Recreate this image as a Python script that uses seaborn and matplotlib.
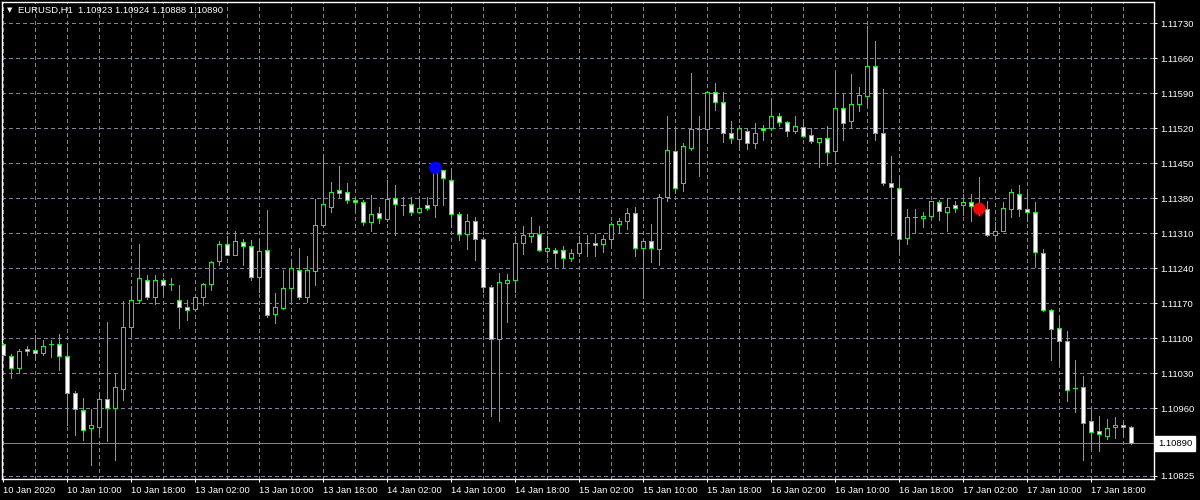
import numpy as np
import pandas as pd
import matplotlib
matplotlib.use("Agg")
import matplotlib.pyplot as plt
import matplotlib.transforms as mtransforms
import seaborn as sns

symbol = "EURUSD,H1"

# hourly bars, 10 Jan 2020 02:00 .. 17 Jan 2020 23:00
opens = [
    1.11088, 1.11065, 1.11040, 1.11079, 1.11076, 1.11070, 1.11088, 1.11088, 1.11064, 1.10990,
    1.10956, 1.10920, 1.10923, 1.10978, 1.10960, 1.10998, 1.11123, 1.11176, 1.11216, 1.11182,
    1.11216, 1.11208, 1.11176, 1.11163, 1.11158, 1.11182, 1.11209, 1.11254, 1.11288, 1.11266,
    1.11292, 1.11284, 1.11222, 1.11276, 1.11148, 1.11161, 1.11200, 1.11236, 1.11182, 1.11234,
    1.11326, 1.11362, 1.11396, 1.11392, 1.11376, 1.11372, 1.11333, 1.11350, 1.11338, 1.11380,
    1.11367, 1.11368, 1.11352, 1.11366, 1.11366, 1.11436, 1.11416, 1.11348, 1.11308, 1.11334,
    1.11298, 1.11202, 1.11098, 1.11210, 1.11216, 1.11291, 1.11304, 1.11308, 1.11274, 1.11277,
    1.11276, 1.11260, 1.11270, 1.11291, 1.11291, 1.11288, 1.11298, 1.11328, 1.11334, 1.11350,
    1.11280, 1.11294, 1.11278, 1.11382, 1.11475, 1.11411, 1.11481, 1.11518, 1.11518, 1.11593,
    1.11572, 1.11510, 1.11498, 1.11514, 1.11490, 1.11520, 1.11520, 1.11544, 1.11532, 1.11514,
    1.11522, 1.11506, 1.11492, 1.11500, 1.11474, 1.11560, 1.11534, 1.11568, 1.11584, 1.11644,
    1.11510, 1.11410, 1.11400, 1.11300, 1.11342, 1.11341, 1.11344, 1.11373, 1.11352, 1.11367,
    1.11366, 1.11372, 1.11364, 1.11358, 1.11306, 1.11314, 1.11358, 1.11388, 1.11358, 1.11352,
    1.11270, 1.11156, 1.11120, 1.11094, 1.11000, 1.11002, 1.10935, 1.10914, 1.10904, 1.10922,
    1.10926, 1.10923,
]
highs = [
    1.11091, 1.11069, 1.11079, 1.11084, 1.11106, 1.11096, 1.11096, 1.11108, 1.11088, 1.10994,
    1.10981, 1.10959, 1.10991, 1.11133, 1.11030, 1.11175, 1.11205, 1.11289, 1.11226, 1.11226,
    1.11221, 1.11220, 1.11206, 1.11176, 1.11184, 1.11211, 1.11254, 1.11295, 1.11304, 1.11315,
    1.11299, 1.11297, 1.11293, 1.11357, 1.11190, 1.11237, 1.11256, 1.11281, 1.11265, 1.11378,
    1.11467, 1.11412, 1.11445, 1.11411, 1.11381, 1.11376, 1.11387, 1.11362, 1.11416, 1.11406,
    1.11383, 1.11382, 1.11379, 1.11382, 1.11441, 1.11436, 1.11436, 1.11353, 1.11349, 1.11343,
    1.11303, 1.11206, 1.11231, 1.11229, 1.11305, 1.11325, 1.11343, 1.11325, 1.11304, 1.11281,
    1.11285, 1.11279, 1.11305, 1.11307, 1.11309, 1.11306, 1.11333, 1.11341, 1.11361, 1.11363,
    1.11297, 1.11329, 1.11389, 1.11545, 1.11522, 1.11491, 1.11631, 1.11545, 1.11594, 1.11610,
    1.11593, 1.11535, 1.11526, 1.11520, 1.11530, 1.11526, 1.11580, 1.11550, 1.11534, 1.11544,
    1.11532, 1.11520, 1.11500, 1.11524, 1.11632, 1.11588, 1.11629, 1.11602, 1.11725, 1.11694,
    1.11598, 1.11465, 1.11424, 1.11358, 1.11358, 1.11352, 1.11374, 1.11377, 1.11379, 1.11375,
    1.11389, 1.11389, 1.11423, 1.11374, 1.11333, 1.11373, 1.11399, 1.11407, 1.11392, 1.11373,
    1.11279, 1.11159, 1.11144, 1.11115, 1.11057, 1.11025, 1.10957, 1.10945, 1.10939, 1.10943,
    1.10931, 1.10924,
]
lows = [
    1.11056, 1.11020, 1.11030, 1.11066, 1.11059, 1.11066, 1.11063, 1.11037, 1.10927, 1.10907,
    1.10897, 1.10846, 1.10911, 1.10894, 1.10856, 1.10976, 1.11105, 1.11171, 1.11178, 1.11168,
    1.11189, 1.11196, 1.11121, 1.11136, 1.11156, 1.11166, 1.11196, 1.11246, 1.11266, 1.11266,
    1.11246, 1.11216, 1.11192, 1.11142, 1.11131, 1.11159, 1.11177, 1.11178, 1.11172, 1.11206,
    1.11322, 1.11352, 1.11380, 1.11371, 1.11357, 1.11327, 1.11315, 1.11330, 1.11334, 1.11307,
    1.11347, 1.11347, 1.11350, 1.11356, 1.11342, 1.11367, 1.11324, 1.11297, 1.11279, 1.11257,
    1.11192, 1.10945, 1.10935, 1.11133, 1.11192, 1.11269, 1.11292, 1.11274, 1.11263, 1.11243,
    1.11243, 1.11255, 1.11264, 1.11265, 1.11265, 1.11273, 1.11287, 1.11313, 1.11318, 1.11264,
    1.11180, 1.11253, 1.11246, 1.11374, 1.11391, 1.11395, 1.11477, 1.11425, 1.11492, 1.11557,
    1.11492, 1.11490, 1.11476, 1.11478, 1.11480, 1.11496, 1.11517, 1.11524, 1.11504, 1.11510,
    1.11502, 1.11490, 1.11442, 1.11446, 1.11456, 1.11497, 1.11520, 1.11554, 1.11564, 1.11496,
    1.11406, 1.11306, 1.11274, 1.11288, 1.11312, 1.11322, 1.11344, 1.11337, 1.11314, 1.11352,
    1.11346, 1.11334, 1.11347, 1.11304, 1.11300, 1.11314, 1.11342, 1.11344, 1.11334, 1.11243,
    1.11154, 1.11057, 1.11049, 1.10974, 1.10952, 1.10856, 1.10880, 1.10874, 1.10899, 1.10900,
    1.10904, 1.10888,
]
closes = [
    1.11066, 1.11040, 1.11075, 1.11074, 1.11070, 1.11084, 1.11088, 1.11064, 1.10990, 1.10958,
    1.10917, 1.10926, 1.10978, 1.10961, 1.11002, 1.11122, 1.11176, 1.11220, 1.11182, 1.11216,
    1.11206, 1.11208, 1.11162, 1.11156, 1.11182, 1.11209, 1.11252, 1.11288, 1.11266, 1.11294,
    1.11284, 1.11222, 1.11275, 1.11146, 1.11162, 1.11200, 1.11240, 1.11182, 1.11236, 1.11326,
    1.11368, 1.11392, 1.11391, 1.11377, 1.11372, 1.11333, 1.11348, 1.11340, 1.11378, 1.11368,
    1.11367, 1.11352, 1.11360, 1.11361, 1.11430, 1.11420, 1.11348, 1.11308, 1.11334, 1.11298,
    1.11202, 1.11098, 1.11212, 1.11217, 1.11290, 1.11306, 1.11310, 1.11276, 1.11281, 1.11270,
    1.11260, 1.11271, 1.11291, 1.11291, 1.11286, 1.11299, 1.11329, 1.11334, 1.11350, 1.11280,
    1.11294, 1.11280, 1.11382, 1.11476, 1.11401, 1.11484, 1.11519, 1.11518, 1.11593, 1.11572,
    1.11510, 1.11500, 1.11520, 1.11490, 1.11510, 1.11516, 1.11544, 1.11532, 1.11514, 1.11524,
    1.11504, 1.11494, 1.11500, 1.11472, 1.11560, 1.11530, 1.11568, 1.11586, 1.11644, 1.11510,
    1.11410, 1.11402, 1.11298, 1.11342, 1.11342, 1.11344, 1.11374, 1.11354, 1.11363, 1.11361,
    1.11372, 1.11364, 1.11355, 1.11306, 1.11315, 1.11360, 1.11392, 1.11358, 1.11352, 1.11272,
    1.11156, 1.11118, 1.11094, 1.10996, 1.11000, 1.10931, 1.10912, 1.10908, 1.10920, 1.10926,
    1.10922, 1.10890,
]

time_labels = [
    "10 Jan 2020", "10 Jan 10:00", "10 Jan 18:00", "13 Jan 02:00", "13 Jan 10:00",
    "13 Jan 18:00", "14 Jan 02:00", "14 Jan 10:00", "14 Jan 18:00", "15 Jan 02:00",
    "15 Jan 10:00", "15 Jan 18:00", "16 Jan 02:00", "16 Jan 10:00", "16 Jan 18:00",
    "17 Jan 02:00", "17 Jan 10:00", "17 Jan 18:00",
]
price_levels = [1.10825, 1.10890, 1.10960, 1.11030, 1.11100, 1.11170, 1.11240,
                1.11310, 1.11380, 1.11450, 1.11520, 1.11590, 1.11660, 1.11730]
bid = 1.10890

# signal arrows drawn as dots
signal_bars = [54, 122]
signal_prices = [1.11441, 1.11359]
signal_kind = ["buy", "sell"]

df = pd.DataFrame({"open": opens, "high": highs, "low": lows, "close": closes})
df["bar"] = np.arange(len(df))
bull = df["close"] >= df["open"]

sns.set_style("dark")
plt.rcParams["font.family"] = ["Liberation Sans", "DejaVu Sans"]

W, H = 1200, 500
fig = plt.figure(figsize=(12, 5), dpi=100, facecolor="black")
ax = fig.add_axes([2 / W, 20.7 / H, 1152.3 / W, 477.3 / H])
ax.set_facecolor("black")

grid_col = "#778899"
lime = "#00ff00"
px = 0.72  # one pixel in points

ax.axhline(bid, color=grid_col, lw=px, zorder=2, antialiased=False)

# wicks then bodies
ax.vlines(df["bar"], df["low"], df["high"], color=lime, lw=px, zorder=3,
          antialiased=False)
ax.bar(df["bar"], df["close"] - df["open"], bottom=df["open"], width=0.5,
       color=np.where(bull, "black", "white"), edgecolor=lime, linewidth=px,
       zorder=4, antialiased=False)

sig = pd.DataFrame({"bar": signal_bars, "price": signal_prices, "kind": signal_kind})
sns.scatterplot(data=sig, x="bar", y="price", hue="kind",
                palette={"buy": "#0000ff", "sell": "#ff0000"},
                s=80, edgecolor="none", legend=False, ax=ax, zorder=6)

ax.set_xlim(-0.1625, 143.875)
ax.set_ylim(1.10818, 1.117726)

ax.set_xticks(np.arange(0, 8 * len(time_labels), 8))
ax.set_xticklabels(time_labels, ha="left")
ax.set_xticks(np.arange(4, 144, 8), minor=True)
ax.yaxis.tick_right()
ax.set_yticks(price_levels)
ax.set_yticklabels(["" if p == bid else f"{p:.5f}" for p in price_levels])
ax.set_xlabel("")
ax.set_ylabel("")

ax.grid(True, which="both", color=grid_col, linestyle=(0, (3, 3)), lw=px,
        zorder=1, antialiased=False)
ax.tick_params(axis="x", which="major", colors="white", length=2.5, width=px,
               direction="out", pad=2, labelsize=6.8, bottom=True)
ax.tick_params(axis="x", which="minor", length=0)
ax.tick_params(axis="y", colors="white", length=2.5, width=px, direction="out",
               pad=2, labelsize=6.8, right=True, left=False)
for sp in ax.spines.values():
    sp.set_visible(True)
    sp.set_color("white")
    sp.set_linewidth(1)

# bid price box on the price scale
trans = mtransforms.blended_transform_factory(ax.transAxes, ax.transData)
ax.text(1.0035, bid, f"{bid:.5f}", transform=trans, ha="left", va="center",
        color="black", fontsize=6.8, clip_on=False, zorder=10,
        bbox=dict(boxstyle="square,pad=0.3", facecolor="white", edgecolor="white"))

# header
fig.text(7 / W, 1 - 10.5 / H, "\u25bc", color="white", fontsize=5,
         va="center", ha="left", family="DejaVu Sans")
header = f"{symbol}  {opens[-1]:.5f} {highs[-1]:.5f} {lows[-1]:.5f} {closes[-1]:.5f}"
fig.text(18 / W, 1 - 10.5 / H, header, color="white", fontsize=6.8, va="center", ha="left")

fig.savefig("out.png", dpi=100, facecolor="black")
